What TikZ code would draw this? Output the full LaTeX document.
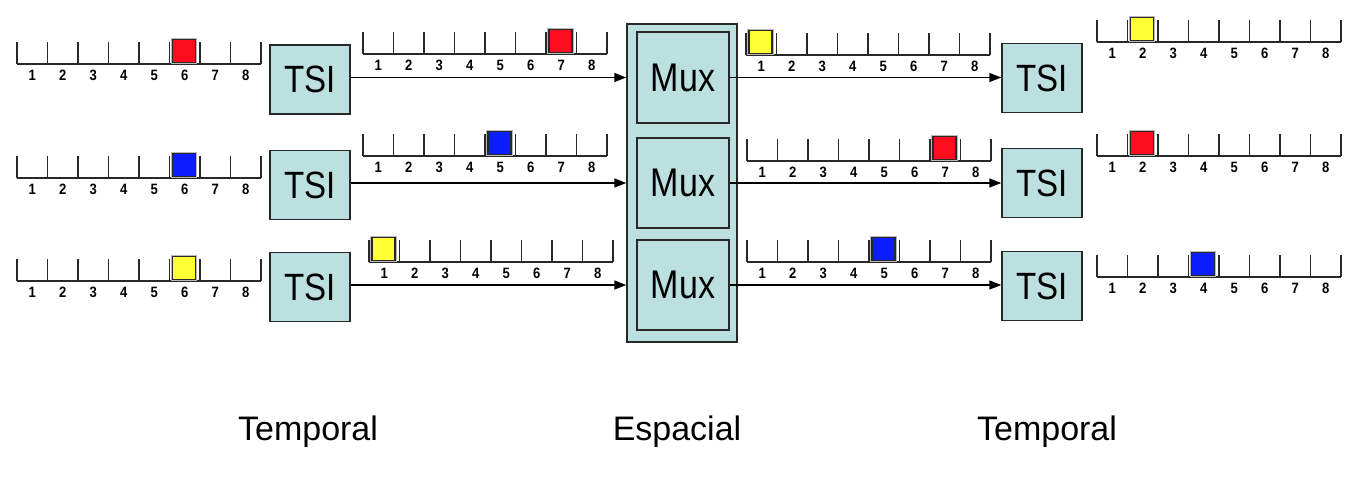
\documentclass[tikz,border=0pt]{standalone}
\usepackage{fontspec}
\setmainfont{Liberation Sans}
\newfontfamily\condA[FakeStretch=0.87]{Liberation Sans}
\newfontfamily\condB[FakeStretch=0.85]{Liberation Sans}
\usetikzlibrary{arrows.meta}
\definecolor{boxfill}{RGB}{188,223,224}
\definecolor{sqred}{RGB}{255,12,30}
\definecolor{sqyellow}{RGB}{255,255,51}
\definecolor{sqblue}{RGB}{12,30,255}
\definecolor{lineg}{RGB}{40,40,40}
\tikzset{
  tick/.style={draw=lineg,line width=1.7pt},
  base/.style={draw=lineg,line width=2.1pt},
  num/.style={inner sep=0pt,font=\condA\bfseries\fontsize{15}{15}\selectfont},
  sq/.style={minimum size=23pt,inner sep=0pt,draw=lineg,line width=1.3pt,
    preaction={draw=gray!55,line width=3.6pt}},
  blk/.style={draw=lineg,line width=1.5pt,fill=boxfill,inner sep=0pt},
  tsi/.style={blk,minimum width=80pt,minimum height=69pt,font=\condA\fontsize{38}{38}\selectfont},
  mux/.style={blk,minimum width=92pt,font=\condB\fontsize{40}{40}\selectfont},
  arr/.style={draw=black,line width=1.6pt,-{Triangle[length=12pt,width=9pt]}},
  captext/.style={inner sep=0pt,font=\fontsize{34}{34}\selectfont}
}
\newcommand\tline[4]{%
  \draw[base] (#1,#2) -- ++(244,0);
  \foreach \i in {0,...,8} \draw[tick] (#1+\i*30.5,#2) -- ++(0,-22);
  \foreach \i in {1,...,8} \node[num] at (#1+\i*30.5-15.25,#2+11.5) {\i};
  \node[sq,fill=#4] at (#1+#3*30.5-16,#2-13) {};
}
\begin{document}
\begin{tikzpicture}[x=1pt,y=-1pt]
\useasboundingbox (0,0) rectangle (1356,482);
% timelines
\tline{17}{64}{6}{sqred}
\tline{17}{178}{6}{sqblue}
\tline{17}{281}{6}{sqyellow}
\tline{363}{54}{7}{sqred}
\tline{363}{156}{5}{sqblue}
\tline{369}{262}{1}{sqyellow}
\tline{746}{55}{1}{sqyellow}
\tline{747}{161}{7}{sqred}
\tline{747}{262}{5}{sqblue}
\tline{1097}{42}{2}{sqyellow}
\tline{1097}{156}{2}{sqred}
\tline{1097}{277}{4}{sqblue}
% TSI boxes
\node[tsi] (tl1) at (310,79.5) {TSI};
\node[tsi] (tl2) at (310,185) {TSI};
\node[tsi] (tl3) at (310,287) {TSI};
\node[tsi] (tr1) at (1042,78) {TSI};
\node[tsi] (tr2) at (1042,183) {TSI};
\node[tsi] (tr3) at (1042,286) {TSI};
% Mux
\node[blk,minimum width=110pt,minimum height=318pt] (outer) at (682,183) {};
\node[mux,minimum height=91pt] (m1) at (683,77.5) {Mux};
\node[mux,minimum height=90pt] (m2) at (683,183) {Mux};
\node[mux,minimum height=90pt] (m3) at (683,285) {Mux};
% arrows
\draw[arr] (tl1.east |- m1.center) -- (outer.west |- m1.center);
\draw[arr] (tl2.east |- m2.center) -- (outer.west |- m2.center);
\draw[arr] (tl3.east |- m3.center) -- (outer.west |- m3.center);
\draw[arr] (m1.east) -- (tr1.west |- m1.center);
\draw[arr] (m2.east) -- (tr2.west |- m2.center);
\draw[arr] (m3.east) -- (tr3.west |- m3.center);
% captions
\node[captext] (c1) at (308,432) {Temporal};
\node[captext] (c2) at (677,432) {Espacial};
\node[captext] (c3) at (1047,432) {Temporal};
\end{tikzpicture}
\end{document}
